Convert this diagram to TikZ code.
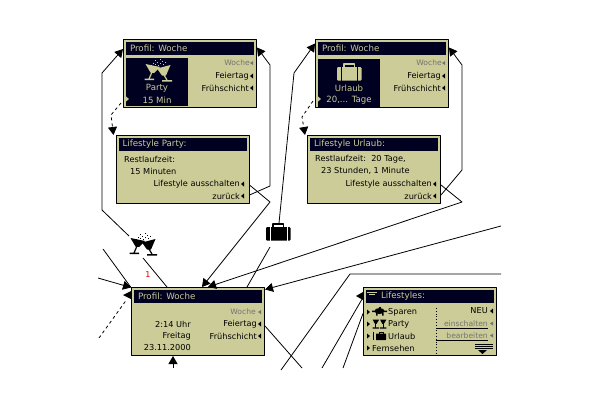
\documentclass[tikz,border=0pt]{standalone}
\usepackage{fontspec}
\setmainfont{DejaVu Sans}
\usetikzlibrary{arrows.meta,calc}
\definecolor{lcd}{HTML}{CCCC99}
\definecolor{ink}{HTML}{000020}
\definecolor{glow}{HTML}{DDD066}
\newcommand{\glasses}[2]{% colour, origin
\begin{scope}[shift={#2},fill=#1,draw=#1]
\fill (20.5,9) -- (35,12) -- (29,18) -- (25.5,17.5) -- cycle;
\fill (32,13.5) -- (45.5,10) -- (41,20.5) -- (37,20.5) -- cycle;
\draw[line width=1.2pt] (27,17)--(24,24) (39,20)--(42,25);
\fill (19.5,23.5) rectangle (29,25) (37,25) rectangle (47,26.5);
\foreach \x/\y in {26/10,28/8,30/5,30/9,32/7,33/10,35/4,35/8,37/6,38/9,40/7}
{\fill (\x,\y) rectangle ++(1,1);}
\end{scope}}
\newcommand{\suitcase}[2]{% colour, origin
\begin{scope}[shift={#2},fill=#1,draw=#1]
\fill[rounded corners=1pt] (0,0) rectangle (24.5,13.5);
\draw[line width=1.6pt] (7,0)--(7,-2.8)--(17.5,-2.8)--(17.5,0);
\end{scope}}
\tikzset{
panel/.style={draw=black,line width=1pt,fill=lcd,minimum width=133pt,minimum height=68pt,inner sep=0pt},
header/.style={fill=ink,minimum width=128pt,minimum height=13pt,inner sep=0pt},
hdtext/.style={text=lcd,anchor=west,inner sep=0pt,font=\fontsize{8.7}{10}\selectfont},
txt/.style={text=black,anchor=west,inner sep=0pt,font=\fontsize{8.2}{10}\selectfont},
txr/.style={text=black,anchor=east,inner sep=0pt,font=\fontsize{8.2}{10}\selectfont},
off/.style={text=black!55,anchor=east,inner sep=0pt,font=\fontsize{7.6}{9}\selectfont},
inv/.style={text=lcd,inner sep=0pt,font=\fontsize{8.6}{10}\selectfont},
link/.style={line width=.8pt},
>={Stealth[length=8pt,width=9pt,inset=0pt]}
}
\begin{document}
\begin{tikzpicture}[x=1pt,y=-1pt,line join=round]
\useasboundingbox (0,0) rectangle (600,400);
\fill[white] (0,0) rectangle (600,400);
\path
(102,73) coordinate (LA)
(102,210) coordinate (LB)
(129,236) coordinate (GT)
(143,258) coordinate (GB)
(270,186) coordinate (RA)
(270,65) coordinate (RB)
(270,202) coordinate (RC)
(279,223) coordinate (ST)
(294,73) coordinate (SA)
(270,247) coordinate (SB)
(462,170) coordinate (UA)
(462,65) coordinate (UB)
(462,202) coordinate (UC)
(501,226) coordinate (EA)
(501,274) coordinate (EB)
(350,274) coordinate (EC)
(281,370) coordinate (ED)
(302,368) coordinate (FA)
(322,368) coordinate (FB)
(343,368) coordinate (FC)
(98,278) coordinate (WA)
(103,249) coordinate (WB)
(99,338) coordinate (WC)
(111,115) coordinate (DA)
(302,117) coordinate (DB)
(173,368) coordinate (BT)
;
% screens
\node[panel] (profA) at (190,73.5) {};
\node[panel] (profB) at (382,73.5) {};
\node[panel] (lifeA) at (182.5,169.5) {};
\node[panel] (lifeB) at (374,169.5) {};
\node[panel] (main) at (198,321.5) {};
\node[panel] (list) at (430,321.5) {};
\node[header] (headA) at (profA.center |- 0,48.5) {};
\node[header] (headB) at (profB.center |- 0,48.5) {};
\node[header] (headC) at (lifeA.center |- 0,144.5) {};
\node[header] (headD) at (lifeB.center |- 0,144.5) {};
\node[header] (headE) at (main.center |- 0,296.5) {};
\node[header] (headF) at (list.center |- 0,296.5) {};
\foreach \n/\t in {headA/Profil: Woche,headB/Profil: Woche,headC/Lifestyle Party:,headD/Lifestyle Urlaub:,headE/Profil: Woche}
{\node[hdtext] at ([xshift=4pt]\n.west) {\t};}
\node[hdtext] at ([xshift=15pt]headF.west) {Lifestyles:};
\draw[lcd,line width=.7pt] (367,292)--(377,292) (369,294)--(375,294);
% softkeys of the three profile screens
\foreach \n/\x/\y in {wA/250/63,wB/442/63,wC/256/312}
{\node[off] (\n) at (\x,\y) {Woche};}
\foreach \n/\x/\y in {fA/249/76,fB/441/76,fC/257/324}
{\node[txr] (\n) at (\x,\y) {Feiertag};}
\foreach \n/\x/\y in {sA/249/88,sB/441/88,sC/257/336}
{\node[txr] (\n) at (\x,\y) {Frühschicht};}
% lifestyle screens
\foreach \n/\x in {A/240,B/432}
{\node[txr] (aus\n) at (\x,184) {Lifestyle ausschalten};
\node[txr] (zur\n) at (\x,196) {zurück};
\draw[glow,line width=.6pt] (\x-64,191)--(\x-44,191) (\x-64,201)--(\x-52,201);}
\node[txt] (restA) at (124,159) {Restlaufzeit:};
\node[txt] (minA) at (130,171) {15 Minuten};
\node[txt] (restB) at (315,159) {Restlaufzeit:\ \ 20 Tage,};
\node[txt] (minB) at (321,171) {23 Stunden, 1 Minute};
% images on the profile screens
\fill[ink] (126,58) rectangle (188,106);
\fill[ink] (318,59) rectangle (380,107);
\glasses{lcd}{(125,55)}
\node[inv] (partyA) at (157,88) {Party};
\node[inv] (partyB) at (157,100) {15 Min};
\suitcase{lcd}{(337,67)}
\draw[ink,line width=.7pt] (341,67)--(341,80.5) (357,67)--(357,80.5);
\node[inv] (urlA) at (349,88) {Urlaub};
\node[inv] (urlB) at (349,100) {20,... Tage};
\foreach \x/\y in {126/99,318/99}
{\fill[lcd] (\x,\y-2.5) -- (\x+3,\y) -- (\x,\y+2.5) -- cycle;}
% main screen
\node[txr] (timeC) at (191,324) {2:14 Uhr};
\node[txr] (dayC) at (191,336) {Freitag};
\node[txr] (dateC) at (191,348) {23.11.2000};
% lifestyle list
\foreach \n/\y/\t in {sp/312/Sparen,pa/324/Party,ur/336/Urlaub}
{\node[txt] (\n) at (388,\y) {\t};}
\node[txt] (fern) at (372,348) {Fernsehen};
\foreach \y in {312,324,336,348}
{\fill[black] (367,\y-2.5) -- (370,\y) -- (367,\y+2.5) -- cycle;}
\fill[black] (379.5,311) ellipse (5pt and 3pt);
\fill[black] (372,310.5) rectangle (387,312) (376,313) rectangle (377.5,315.5) (382,313) rectangle (383.5,315.5);
\fill[black] (378.5,306.5) rectangle (380.5,308.5);
\begin{scope}[shift={(362,315)},scale=.52]
\fill (20.5,9) -- (33,9) -- (28,17) -- (25,17) -- cycle;
\fill (35,9) -- (47,9) -- (42,17) -- (39,17) -- cycle;
\draw[line width=.8pt] (26.5,17)--(26.5,25) (40.5,17)--(40.5,25);
\fill (20.5,24) rectangle (33,26) (35,24) rectangle (47,26);
\end{scope}
\draw[line width=.8pt] (373.5,332)--(373.5,340);
\fill[black,rounded corners=.5pt] (376,333.5) rectangle (386,340);
\draw[line width=.7pt] (379,333.5)--(379,332)--(383,332)--(383,333.5);
\draw[dotted,line width=.8pt] (436,308)--(436,353);
\node[txr] (neu) at (488,311) {NEU};
\node[off] (ein) at (488,323.5) {einschalten};
\node[off] (bea) at (488,335.5) {bearbeiten};
\draw[line width=.8pt] (436,328)--(488,328) (436,340)--(488,340);
\draw[line width=.8pt] (475,344)--(493,344) (475,346)--(493,346) (475,348)--(493,348);
\fill[black] (478,350) -- (487,350) -- (482.5,354) -- cycle;
% small softkey tips
\foreach \x/\y in {253/76,253/88,445/76,445/88,244/184,244/196,436/184,436/196,261/324,261/336,493/311}
{\fill[black] (\x,\y-2.5) -- (\x-3,\y) -- (\x,\y+2.5) -- cycle;}
\foreach \x/\y in {253/63,445/63,261/312,493/323.5,493/335.5}
{\fill[black!55] (\x,\y-2) -- (\x-3,\y) -- (\x,\y+2) -- cycle;}
% icons between the screens
\glasses{black}{(110,229)}
\suitcase{black}{(266,227)}
\draw[white,line width=.7pt] (270,227)--(270,240.5) (287,227)--(287,240.5);
\node[text=red!80!black,inner sep=0pt,font=\fontsize{8}{9}\selectfont] (one) at (148,275) {1};
% connectors
\draw[link,->] (LB)--(LA)--([yshift=24.5pt]profA.west);
\draw[link] (LB)--(GT);
\draw[link] (GB)--([xshift=-31pt]main.north);
\draw[link,->] ([yshift=-25.5pt]lifeA.east)--(RA)--(RB)--([yshift=26pt]profA.east);
\draw[link,->] ([yshift=-15.5pt]lifeA.east)--(RC)--([xshift=4pt]main.north);
\draw[link,->] (ST)--(SA)--([yshift=30pt]profB.west);
\draw[link] (SB)--([xshift=49pt]main.north);
\draw[link,->] ([yshift=-25.5pt]lifeB.east)--(UA)--(UB)--([yshift=26pt]profB.east);
\draw[link,->] ([yshift=-15.5pt]lifeB.east)--(UC)--([xshift=10pt]main.north);
\draw[link,->] (EA)--([yshift=32pt]main.east);
\draw[link] (EB)--(EC)--(ED);
\draw[link] ([yshift=-4.5pt]main.east)--(FA);
\draw[link] (FB)--([yshift=24pt]list.west);
\draw[link] (FC)--([yshift=8pt]list.west);
\draw[link,->] (WA)--([yshift=34pt]main.west);
\draw[link] (WB)--([yshift=34pt]main.west);
\draw[link,dashed] (WC)--([xshift=-5pt,yshift=21pt]main.west);
\draw[link,dashed,->] ([xshift=-2pt,yshift=5pt]profA.south west)--(DA)--([xshift=-2pt]lifeA.north west);
\draw[link,dashed,->] ([xshift=-2pt,yshift=7pt]profB.south west)--(DB)--([xshift=-2pt]lifeB.north west);
\draw[link,->] (BT)--([xshift=-25pt]main.south);
\fill[black] (123,295) -- (131,291) -- (131,299) -- cycle;
\fill[black] (356,296) -- (363,292) -- (363,300) -- cycle;
\end{tikzpicture}
\end{document}
